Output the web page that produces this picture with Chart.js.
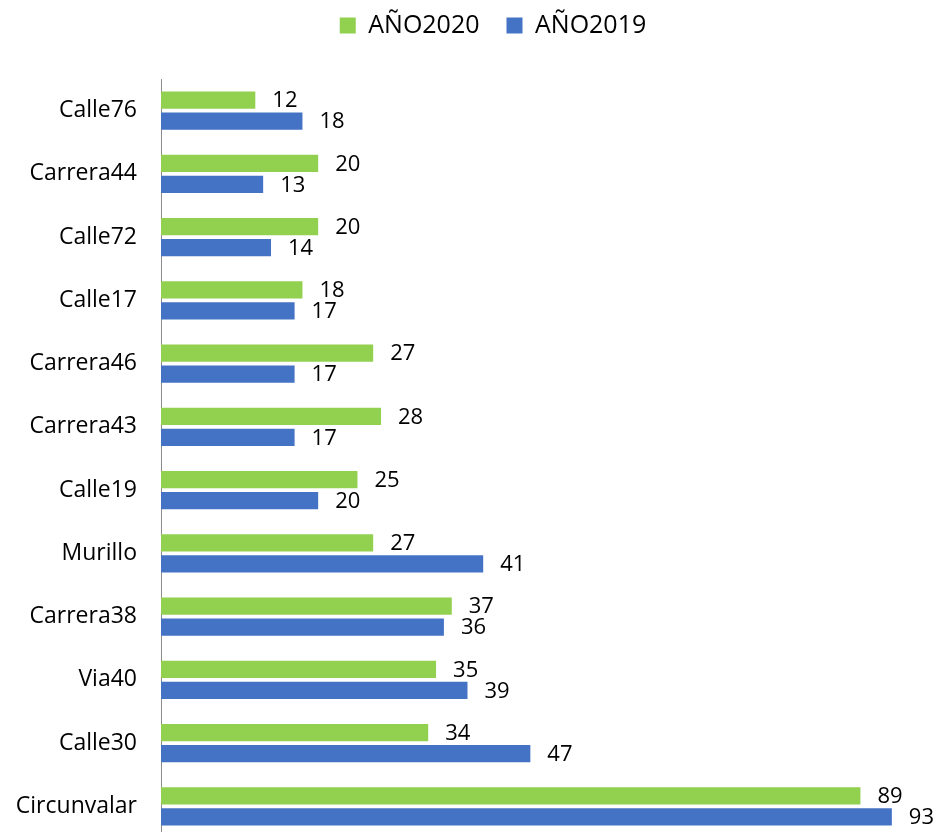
<!DOCTYPE html>
<html>
<head>
<meta charset="utf-8">
<script src="https://cdn.jsdelivr.net/npm/chart.js@4/dist/chart.umd.min.js"></script>
<style>
  html, body { margin: 0; padding: 0; background: #fff; overflow: hidden; }
  canvas { display: block; }
</style>
</head>
<body>
<canvas id="barChart" width="939" height="838"></canvas>
<script>
const streets = ['Calle76', 'Carrera44', 'Calle72', 'Calle17', 'Carrera46', 'Carrera43',
                 'Calle19', 'Murillo', 'Carrera38', 'Via40', 'Calle30', 'Circunvalar'];
const year2020 = [12, 20, 20, 18, 27, 28, 25, 27, 37, 35, 34, 89];
const year2019 = [18, 13, 14, 17, 17, 17, 20, 41, 36, 39, 47, 93];
const seriesNames = ['AÑO2020', 'AÑO2019'];

window.onload = function() {
    const ctx = document.getElementById('barChart');

    // fixed legend block height so the plot starts lower
    const legendSpace = {
        id: 'legendSpace',
        beforeInit(chart) {
            const fit = chart.legend.fit;
            chart.legend.fit = function() {
                fit.bind(chart.legend)();
                this.height = 93;
            };
        }
    };

    // value labels at the end of each bar
    const valueLabels = {
        id: 'valueLabels',
        afterDatasetsDraw(chart) {
            const c = chart.ctx;
            c.save();
            c.font = '22px "Open Sans"';
            c.fillStyle = '#000';
            c.textAlign = 'left';
            c.textBaseline = 'middle';
            chart.data.datasets.forEach((ds, i) => {
                chart.getDatasetMeta(i).data.forEach((bar, j) => {
                    c.fillText(ds.data[j], bar.x + 17, bar.y + 1);
                });
            });
            c.restore();
        }
    };

    new Chart(ctx, {
        type: 'bar',
        plugins: [legendSpace, valueLabels],
        data: {
            labels: streets,
            datasets: [{
                label: seriesNames[0],
                data: year2020,
                backgroundColor: '#92D050',
                categoryPercentage: 0.665,
                barPercentage: 0.81
            }, {
                label: seriesNames[1],
                data: year2019,
                backgroundColor: '#4472C4',
                categoryPercentage: 0.665,
                barPercentage: 0.81
            }]
        },
        options: {
            indexAxis: 'y',
            responsive: false,
            animation: false,
            layout: { padding: { top: -14, left: 0, right: -47, bottom: 0 } },
            scales: {
                x: {
                    display: false,
                    min: 0,
                    max: 99
                },
                y: {
                    grid: { display: false },
                    border: { display: true, color: '#8c8c8c', width: 1 },
                    ticks: {
                        color: '#000',
                        padding: 16,
                        font: { family: 'Open Sans', size: 23 }
                    },
                    afterFit(scale) {
                        scale.width = 161;
                        scale.paddingTop = 0;
                        scale.paddingBottom = 0;
                    }
                }
            },
            plugins: {
                tooltip: { enabled: false },
                legend: {
                    position: 'top',
                    labels: {
                        boxWidth: 16,
                        boxHeight: 16,
                        padding: 27,
                        color: '#000',
                        font: { family: 'Open Sans', size: 25 }
                    }
                }
            }
        }
    });
};
</script>
</body>
</html>
